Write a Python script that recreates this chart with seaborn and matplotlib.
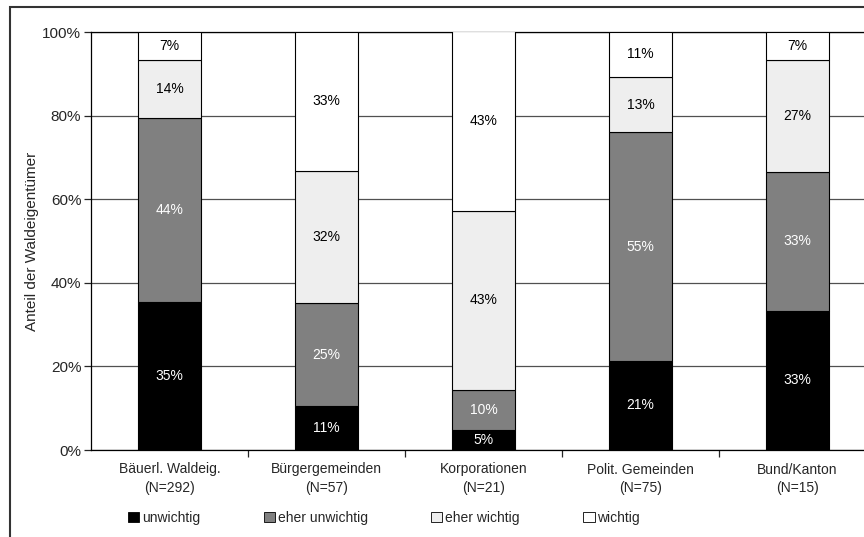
import numpy as np
import pandas as pd
import seaborn as sns
import matplotlib
matplotlib.use('Agg')
import matplotlib.pyplot as plt
from matplotlib.patches import Rectangle, Patch

# Daten (Anteile in %)
categories = ['Bäuerl. Waldeig.\n(N=292)', 'Bürgergemeinden\n(N=57)', 'Korporationen\n(N=21)',
              'Polit. Gemeinden\n(N=75)', 'Bund/Kanton\n(N=15)']
levels = ['unwichtig', 'eher unwichtig', 'eher wichtig', 'wichtig']
unwichtig = [35.3, 10.53, 4.8, 21.3, 33.3]
eher_unwichtig = [44.2, 24.6, 9.52, 54.7, 33.3]
eher_wichtig = [13.7, 31.6, 42.9, 13.3, 26.7]
wichtig = [6.8, 33.3, 42.9, 10.7, 6.7]

colors = ['#000000', '#808080', '#eeeeee', '#ffffff']
text_colors = ['white', 'white', 'black', 'black']

sns.set_style('white')
plt.rcParams['font.family'] = ['Liberation Sans', 'DejaVu Sans']

fig = plt.figure(figsize=(8.64, 5.37), dpi=100)
ax = fig.add_axes([91 / 864, 1 - 450 / 537, 785 / 864, 418 / 537])

series = [unwichtig, eher_unwichtig, eher_wichtig, wichtig]
bottom = np.zeros(len(categories))
for vals, lvl, col, tcol in zip(series, levels, colors, text_colors):
    df = pd.DataFrame({'cat': categories, 'val': vals})
    sns.barplot(data=df, x='cat', y='val', order=categories, bottom=bottom, color=col,
                width=0.4, edgecolor='black', linewidth=0.8, saturation=1, ax=ax, zorder=3)
    # Prozentwerte in die Segmente schreiben
    for i, v in enumerate(vals):
        ax.text(i, bottom[i] + v / 2, f'{v:.0f}%', ha='center', va='center',
                fontsize=10, color=tcol, zorder=4)
    bottom = bottom + np.array(vals)

ax.set_ylim(0, 100)
ax.set_xlim(-0.5, len(categories) - 0.5)
ax.set_yticks(np.arange(0, 101, 20))
ax.set_yticklabels([f'{t}%' for t in range(0, 101, 20)], fontsize=11)
ax.yaxis.grid(True, color='#505050', linewidth=0.9, zorder=0)
ax.set_axisbelow(True)
ax.tick_params(axis='y', direction='out', length=5, left=True, width=0.9, pad=2)
ax.set_xticks(range(len(categories)))
ax.set_xticklabels(categories, fontsize=10, linespacing=1.45)
ax.set_xticks(np.arange(0.5, len(categories) - 0.5, 1), minor=True)
ax.tick_params(axis='x', which='major', length=0, pad=9)
ax.tick_params(axis='x', which='minor', direction='out', length=5, bottom=True, width=0.9)
ax.set_xlabel('')
ax.set_ylabel('Anteil der Waldeigentümer', fontsize=11, labelpad=2)
for s in ax.spines.values():
    s.set_color('black')
    s.set_linewidth(0.9)

# Legende
handles = [Patch(facecolor=c, edgecolor='black', linewidth=0.6) for c in colors]
fig.legend(handles, levels, loc='center left', bbox_to_anchor=(128 / 864, 1 - 518 / 537, 512 / 864, 0),
           ncol=4, mode='expand', frameon=False, fontsize=10, handlelength=0.8, handleheight=0.8,
           handletextpad=0.2, borderaxespad=0, borderpad=0)

# Rahmen um die Grafik
fig.patches.append(Rectangle((10 / 864, -0.1), 1.2, 1.1 - 7 / 537, transform=fig.transFigure,
                             fill=False, edgecolor='#333333', linewidth=1.5))

fig.savefig('out.png', dpi=100)
